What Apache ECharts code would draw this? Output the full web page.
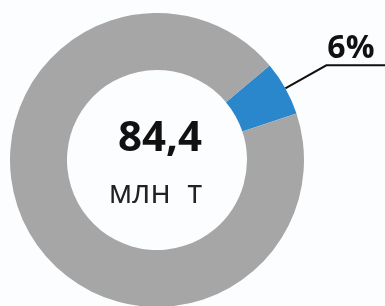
<!DOCTYPE html>
<html>
<head>
<meta charset="utf-8">
<script src="https://cdn.jsdelivr.net/npm/echarts@6/dist/echarts.min.js"></script>
<style>
html,body{margin:0;padding:0;background:#fcfdfe;}
#c{width:385px;height:306px;}
</style>
</head>
<body>
<div id="c"></div>
<script>
const categories = ['Доля', 'Остальное'];
const values = [6, 94];
const colors = ['#2b87cc', '#a6a6a6'];
const centerValue = '84,4';
const centerUnit = 'млн  т';

const chart = echarts.init(document.getElementById('c'), null, {renderer: 'canvas'});
chart.setOption({
  backgroundColor: '#fcfdfe',
  animation: false,
  series: [{
    type: 'pie',
    center: [157, 160],
    radius: [90, 147],
    startAngle: 40,
    clockwise: true,
    avoidLabelOverlap: false,
    emphasis: {disabled: true},
    data: categories.map((n, i) => ({
      name: n,
      value: values[i],
      itemStyle: {color: colors[i]},
      label: {show: i === 0},
      labelLine: {show: i === 0}
    })),
    label: {
      position: 'outside',
      formatter: '{c}%\n ',
      fontFamily: 'Open Sans',
      fontWeight: 'bold',
      fontSize: 32,
      lineHeight: 32,
      color: '#111',
      distanceToLabelLine: -61
    },
    labelLine: {
      length: 47,
      length2: 62,
      lineStyle: {color: '#111', width: 2}
    }
  }],
  graphic: [
    {type: 'text', x: 160, y: 118.5, style: {text: centerValue, font: 'bold 42px "Open Sans"', fill: '#111', align: 'center', verticalAlign: 'top'}},
    {type: 'text', x: 155.5, y: 177.5, style: {text: centerUnit, font: '32px "Open Sans"', fill: '#222', align: 'center', verticalAlign: 'top'}}
  ]
});
</script>
</body>
</html>
